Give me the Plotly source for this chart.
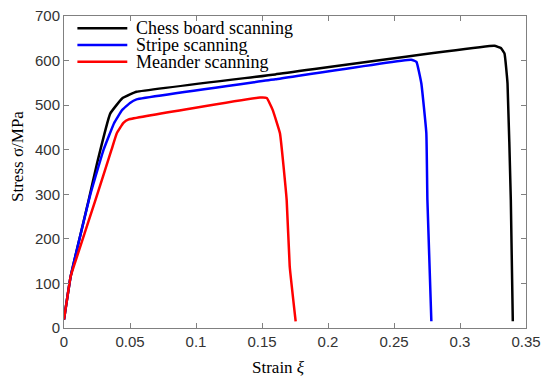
import plotly.graph_objects as go

chess_strain = [0, 0.005, 0.0187, 0.025, 0.035, 0.044, 0.05, 0.055, 0.16, 0.326, 0.331, 0.3337, 0.336, 0.3385, 0.340]
chess_stress = [19, 115, 287, 369, 481, 515, 524, 530, 569, 633, 628, 616, 549, 287, 15]

stripe_strain = [0, 0.005, 0.02, 0.030, 0.038, 0.044, 0.05, 0.055, 0.16, 0.263, 0.267, 0.2707, 0.2745, 0.2753, 0.2783]
stripe_stress = [19, 115, 300, 400, 460, 489, 505, 513, 558, 602, 597, 549, 437, 287, 15]

meander_strain = [0, 0.005, 0.0074, 0.0238, 0.036, 0.040, 0.045, 0.049, 0.1485, 0.1536, 0.158, 0.1636, 0.1687, 0.171, 0.1755]
meander_stress = [19, 115, 138, 287, 400, 437, 460, 468, 517, 516, 490, 437, 287, 138, 15]

names = ["Chess board scanning", "Stripe scanning", "Meander scanning"]
colors = ["#000000", "#0000ff", "#ff0000"]
x_ticks = [0, 0.05, 0.1, 0.15, 0.2, 0.25, 0.3, 0.35]
x_tick_labels = ["0", "0.05", "0.1", "0.15", "0.2", "0.25", "0.3", "0.35"]
y_ticks = [0, 100, 200, 300, 400, 500, 600, 700]

SERIF = "Liberation Serif, DejaVu Serif, serif"

fig = go.Figure()
series = [(chess_strain, chess_stress), (stripe_strain, stripe_stress), (meander_strain, meander_stress)]
for (xs, ys), nm, col in zip(series, names, colors):
    fig.add_trace(go.Scatter(x=xs, y=ys, mode="lines", name=nm, showlegend=False,
                             line=dict(color=col, width=2.5, shape="spline", smoothing=0.3)))

axis_common = dict(showline=True, mirror="ticks", linecolor="#808080", linewidth=1,
                   ticks="inside", ticklen=5, tickcolor="#808080", showgrid=False, zeroline=False,
                   automargin=False, ticklabeloverflow="allow",
                   tickfont=dict(family="Liberation Sans, Arial, sans-serif", size=15, color="#333333"))

fig.update_xaxes(range=[0, 0.35], tickvals=x_ticks, ticktext=x_tick_labels, **axis_common)
fig.update_yaxes(range=[0, 700], tickvals=y_ticks, **axis_common)

# manual legend (top-left, inside plot)
legend_y = [0.9606, 0.907, 0.8535]
shapes = []
annotations = []
for nm, col, ly in zip(names, colors, legend_y):
    shapes.append(dict(type="line", xref="paper", yref="paper", x0=0.029, x1=0.137, y0=ly, y1=ly,
                       line=dict(color=col, width=2.5)))
    annotations.append(dict(text=nm, xref="paper", yref="paper", x=0.152, y=ly, xanchor="left",
                            yanchor="middle", showarrow=False,
                            font=dict(family=SERIF, size=18, color="#000000")))

annotations += [
    dict(text="Strain <i>ξ</i>", xref="paper", yref="paper", x=0.465, y=-0.128,
         xanchor="center", yanchor="middle", showarrow=False,
         font=dict(family=SERIF, size=17, color="#000000")),
    dict(text="Stress σ/MPa", xref="paper", yref="paper", x=-0.102, y=0.551,
         xanchor="center", yanchor="middle", showarrow=False, textangle=-90,
         font=dict(family=SERIF, size=17, color="#000000")),
]

fig.update_layout(
    width=542, height=376,
    margin=dict(l=56, r=24, t=8, b=56),
    plot_bgcolor="white", paper_bgcolor="white",
    showlegend=False,
    shapes=shapes,
    annotations=annotations,
)

fig.write_html("out.html")
